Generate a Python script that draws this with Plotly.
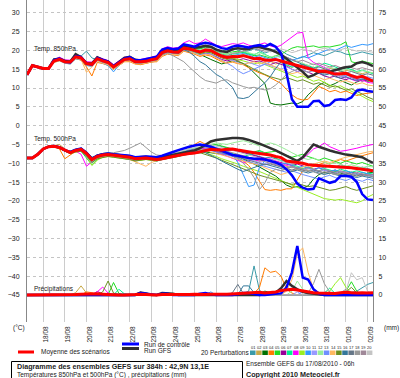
import plotly.graph_objects as go
import pandas as pd

# ---------------- data ----------------
TIMES = pd.date_range("2010-08-17 06:00", "2010-09-02 06:00", freq="6h")
DATE_LABELS = ["18/08", "19/08", "20/08", "21/08", "22/08", "23/08", "24/08", "25/08",
               "26/08", "27/08", "28/08", "29/08", "30/08", "31/08", "01/09", "02/09"]
TICK_DATES = ["2010-08-18", "2010-08-19", "2010-08-20", "2010-08-21", "2010-08-22", "2010-08-23",
              "2010-08-24", "2010-08-25", "2010-08-26", "2010-08-27", "2010-08-28", "2010-08-29",
              "2010-08-30", "2010-08-31", "2010-09-01", "2010-09-02"]
LEFT_TICKS = [-45, -40, -35, -30, -25, -20, -15, -10, -5, 0, 5, 10, 15, 20, 25, 30]
RIGHT_TICKS = [0, 5, 10, 15, 20, 25, 30, 35, 40, 45, 50, 55, 60, 65, 70, 75]

# Temperature 850 hPa (C)
MEAN_850 = [13.5,16.0,15.6,15.2,15.2, 17.2,17.6,17.0,16.9,18.3, 18.0,16.5,16.3,17.8,17.2, 16.8,15.6,16.6,17.6,17.8, 17.0,17.0,17.1,17.5,17.8, 19.4,19.9,19.6,19.5,20.6, 20.4,20.0,19.6,20.1,20.0, 19.2,18.5,18.1,18.4,18.3, 18.6,18.2,17.8,17.9,17.4, 17.4,17.6,17.2,16.8,16.4, 15.8,15.6,15.0,14.8,14.4, 14.5,14.0,13.7,13.8,13.9, 13.3,12.8,13.1,12.5,11.8]
CTRL_850 = [13.5,16.0,15.6,15.2,15.2, 17.4,17.8,17.0,16.8,18.5, 18.2,16.6,16.2,18.0,17.5, 17.0,15.8,16.8,17.8,18.2, 17.4,17.4,17.6,18.0,18.3, 20.2,20.6,20.3,20.5,21.6, 21.3,21.0,21.7,22.0,21.8, 21.2,20.6,20.4,21.0,21.3, 21.0,20.8,21.2,21.4,21.0, 21.7,21.0,19.2,14.0,7.0, 5.0,5.1,5.0,6.5,6.6, 5.2,5.5,6.8,7.0,6.8, 7.5,9.3,9.6,9.2,9.0]
GFS_850 = [13.5,16.0,15.6,15.2,15.2, 17.6,17.8,17.2,17.0,19.0, 18.2,16.5,16.5,18.2,17.5, 17.0,15.8,16.9,18.0,18.3, 17.5,17.3,17.4,17.9,18.2, 20.0,20.4,20.1,20.2,21.2, 21.0,20.7,20.9,21.2,21.0, 20.2,19.8,19.6,20.3,20.6, 20.4,20.4,20.9,20.9,20.5, 20.2,19.6,18.9,17.8,16.7, 15.6,14.3,12.9,13.4,14.3, 14.4,14.3,14.8,15.2,15.5, 15.7,16.6,16.9,16.5,15.8]
P850_01 = [13.5,16.0,15.6,15.2,15.3, 17.0,17.5,17.2,17.3,18.6, 18.5,19.8,18.0,17.6,17.0, 16.5,15.5,16.4,17.3,17.5, 16.8,16.5,16.8,17.3,17.6, 19.0,19.5,19.3,19.0,20.2, 20.0,19.8,20.5,21.0,20.6, 20.0,19.8,20.2,20.6,20.1, 19.6,19.9,20.4,20.0,19.3, 19.8,20.3,20.0,19.0,18.4, 17.8,18.2,18.8,19.4,19.0, 18.6,19.2,19.8,19.6,19.0, 18.8,19.3,19.6,19.2,18.9]
P850_02 = [13.5,16.0,15.6,15.2,15.2, 16.8,17.2,16.6,16.4,17.8, 17.5,16.0,15.8,17.4,16.8, 16.2,14.9,16.0,17.0,17.2, 16.5,16.3,16.6,17.0,17.2, 18.8,19.4,19.1,19.2,20.3, 20.1,19.6,19.0,19.5,19.8, 19.3,18.7,18.2,18.6,18.5, 18.9,18.4,17.9,17.5,17.9, 17.2,16.4,16.8,16.0,15.5, 16.2,15.8,15.2,15.6,14.8, 14.5,15.2,15.0,14.3,14.6, 14.9,14.2,13.8,14.2,14.0]
P850_03 = [13.5,16.0,15.6,15.2,15.2, 17.3,17.8,17.1,17.0,18.4, 18.1,16.7,16.4,17.9,17.3, 17.0,15.7,16.8,17.8,18.0, 17.2,17.1,17.3,17.6,18.0, 19.6,20.0,19.7,19.8,20.8, 20.3,19.6,18.8,18.2,17.6, 17.0,16.4,16.8,17.2,17.0, 16.5,15.5,14.0,12.5,11.2, 6.0,5.6,5.5,5.8,6.0, 5.8,6.4,8.2,9.5,10.8, 11.5,10.6,11.2,12.0,11.4, 10.8,11.6,12.2,11.8,12.0]
P850_04 = [13.5,16.0,15.6,15.2,15.1, 17.0,17.4,16.8,16.6,17.8, 17.4,15.6,13.2,16.8,16.5, 16.0,15.0,16.0,17.0,17.0, 16.4,16.2,16.6,16.9,17.0, 18.4,19.0,18.8,18.6,19.8, 19.5,19.0,18.4,18.8,18.5, 17.8,17.0,16.6,16.9,16.5, 16.2,15.4,14.6,14.0,13.5, 12.8,12.0,11.2,9.6,8.2, 7.2,6.8,7.0,8.6,10.4, 9.8,9.0,9.4,8.8,9.2, 8.5,8.0,8.4,8.6,8.8]
P850_05 = [13.5,16.0,15.6,15.2,15.3, 17.5,18.0,17.4,17.2,18.7, 18.4,16.9,16.6,18.2,17.6, 17.2,16.0,17.0,18.0,18.3, 17.5,17.4,17.6,18.0,18.3, 20.0,20.6,20.2,20.0,21.2, 21.0,20.6,20.4,20.8,20.6, 19.8,19.2,19.0,19.6,19.8, 19.4,19.0,18.6,18.8,18.4, 18.0,18.6,19.0,19.8,20.6, 21.0,20.8,21.0,21.2,20.8, 21.0,20.9,21.2,21.5,22.3, 17.0,16.6,17.2,16.8,16.5]
P850_06 = [13.5,16.0,15.6,15.2,15.2, 17.2,17.5,16.9,16.8,18.2, 17.9,16.4,16.2,17.6,17.0, 16.6,15.4,16.4,17.4,17.6, 16.9,16.8,17.0,17.4,17.6, 19.2,19.6,19.4,19.2,20.4, 20.1,19.6,19.0,19.2,19.0, 18.2,17.6,17.2,17.6,17.4, 17.8,17.4,17.0,17.2,16.6, 16.2,16.8,16.4,15.8,15.0, 14.4,14.8,14.2,13.6,13.9, 13.2,12.8,13.2,12.6,12.2, 12.8,12.4,11.8,12.2,11.6]
P850_07 = [13.5,16.0,15.6,15.2,15.2, 17.4,17.9,17.2,17.1,18.6, 18.2,16.8,16.6,18.0,17.4, 17.0,15.9,16.9,17.9,18.1, 17.3,17.2,17.4,17.8,18.1, 19.8,20.3,20.0,19.8,21.0, 20.7,20.3,20.0,20.4,20.2, 19.6,19.0,18.6,19.0,19.2, 19.6,19.2,18.8,19.6,19.0, 18.4,17.6,17.0,16.2,15.6, 15.8,16.4,16.0,15.4,15.8, 16.6,16.2,15.6,15.0,15.4, 14.8,14.4,14.8,14.2,13.8]
P850_08 = [13.5,16.0,15.6,15.2,15.4, 17.6,18.2,17.5,17.4,18.9, 18.5,17.0,16.9,18.3,17.8, 17.3,16.2,17.2,18.2,18.4, 17.6,17.6,17.8,18.2,18.6, 20.4,21.0,20.6,20.8,22.0, 22.6,21.8,22.0,23.0,22.2, 21.4,21.0,21.4,21.8,21.6, 22.0,21.4,21.0,21.6,22.0, 21.2,20.8,21.4,22.4,23.6, 24.6,24.8,18.0,16.8,16.2, 15.4,14.8,14.0,13.2,12.8, 12.2,11.8,12.2,11.5,11.3]
P850_09 = [13.5,16.0,15.6,15.2,15.2, 17.1,17.4,16.8,16.7,18.1, 17.8,16.2,16.0,17.5,16.9, 16.4,15.3,16.3,17.3,17.5, 16.7,16.6,16.9,17.2,17.5, 19.0,19.5,19.3,19.0,20.2, 20.0,19.4,19.0,19.6,19.4, 18.8,18.2,17.8,18.0,17.6, 17.2,16.8,16.4,16.8,16.2, 15.6,15.0,14.6,14.0,13.4, 12.8,13.2,12.4,11.8,12.2, 11.4,10.8,10.2,10.6,9.8, 9.2,8.6,7.8,7.0,6.4]
P850_10 = [13.5,16.0,15.6,15.2,15.2, 17.0,17.3,16.6,16.4,17.8, 17.5,16.0,15.8,17.2,16.6, 16.0,14.3,16.0,17.2,17.5, 16.7,16.6,16.9,17.2,17.5, 19.2,19.8,19.5,19.4,20.5, 20.3,19.8,19.4,19.8,19.9, 19.2,18.6,18.2,18.6,18.9, 19.2,18.8,18.2,18.6,18.0, 17.6,18.2,18.6,18.0,17.4, 17.8,18.4,18.0,18.6,19.2, 19.8,20.4,20.0,20.6,21.3, 20.8,21.2,21.6,21.4,21.8]
P850_11 = [13.5,16.0,15.6,15.2,15.2, 17.3,17.7,17.1,17.0,18.4, 18.1,16.6,16.4,17.9,17.3, 16.9,15.7,16.7,17.7,17.9, 17.1,17.1,17.2,17.6,17.9, 19.5,20.0,19.7,19.6,20.7, 20.5,20.1,19.8,20.2,20.0, 19.2,18.6,18.0,17.4,16.6, 16.2,16.8,16.2,15.8,16.4, 16.0,15.4,15.0,15.6,15.0, 14.4,14.8,14.2,14.6,14.0, 13.6,14.0,13.4,13.0,13.4, 12.8,12.4,12.8,12.2,12.0]
P850_12 = [13.5,16.0,15.6,15.2,15.2, 17.4,17.8,17.2,17.0,18.5, 18.2,16.7,16.5,18.0,17.4, 17.0,15.8,16.8,17.8,18.0, 17.2,17.2,17.4,17.8,18.1, 19.8,20.3,20.0,20.0,21.0, 20.8,20.4,20.0,20.6,20.4, 19.6,19.2,19.0,19.4,19.4, 19.8,19.4,19.0,19.4,18.8, 18.2,18.6,18.0,17.4,16.8, 17.2,16.6,16.0,16.4,15.8, 15.2,15.6,15.0,14.6,15.0, 14.6,14.2,14.6,14.4,14.0]
P850_13 = [13.5,16.0,15.6,15.2,15.2, 17.0,17.4,16.8,16.6,18.0, 17.7,16.2,16.0,17.4,16.8, 16.4,15.2,16.2,17.2,17.4, 16.6,16.6,16.8,17.2,17.4, 18.9,19.4,19.1,19.0,20.0, 19.8,19.3,18.8,19.2,19.0, 18.2,17.4,16.8,15.8,14.6, 13.8,14.4,15.0,15.8,16.4, 17.0,17.6,17.2,16.6,16.0, 15.4,15.8,15.2,14.6,15.0, 14.4,13.8,14.2,13.6,13.2, 13.6,13.0,12.6,13.0,12.6]
P850_14 = [13.5,16.0,15.6,15.2,15.2, 16.9,17.3,16.7,16.5,17.9, 17.6,14.2,15.6,17.2,16.6, 16.2,15.0,16.0,17.0,17.2, 16.4,16.4,16.6,17.0,17.2, 18.6,19.2,18.9,18.8,19.9, 19.7,19.2,18.6,19.0,18.8, 18.0,17.2,16.6,17.0,16.6, 16.2,16.6,17.0,16.4,16.8, 16.2,15.6,15.0,14.4,13.8, 14.2,13.6,13.0,13.4,12.8, 12.2,12.6,12.0,11.6,12.0, 11.4,11.0,11.4,10.8,10.6]
P850_15 = [13.5,16.0,15.6,15.2,15.2, 17.2,17.6,17.0,16.8,18.3, 18.0,16.5,16.2,17.7,17.1, 16.7,15.5,16.5,17.5,17.7, 16.9,16.9,17.1,17.5,17.7, 19.3,19.8,19.5,19.4,20.5, 20.2,19.8,19.2,19.6,19.4, 18.6,18.0,17.6,17.8,17.2, 16.6,15.8,15.0,14.2,13.6, 13.0,12.6,12.2,12.8,12.4, 11.8,12.2,11.6,11.0,11.4, 10.8,10.2,10.6,10.0,9.4, 9.8,9.2,8.4,7.6,7.0]
P850_16 = [13.5,16.0,15.6,15.2,15.2, 17.1,17.5,16.9,16.8,18.2, 17.9,16.4,16.2,17.6,17.0, 16.6,15.4,16.4,17.4,17.6, 16.8,16.8,17.0,17.4,17.6, 19.2,19.6,19.3,19.2,20.2, 19.6,18.4,17.0,16.2,15.0, 13.6,12.8,11.6,10.2,7.4, 7.2,7.6,9.0,10.2,11.4, 13.0,15.2,17.0,18.2,17.6, 17.0,16.4,15.6,14.8,14.0, 13.4,13.8,13.0,12.6,13.0, 12.4,12.0,12.4,12.0,11.8]
P850_17 = [13.5,16.0,15.6,15.2,15.2, 17.2,17.6,17.0,16.9,18.3, 18.0,16.5,16.3,17.8,17.2, 16.8,15.6,16.6,17.6,17.8, 17.0,17.0,17.1,17.5,17.8, 19.4,19.9,19.6,19.5,20.6, 20.4,20.0,19.6,20.0,19.8, 19.0,18.4,18.0,18.4,18.2, 18.6,18.2,17.8,18.0,17.6, 17.2,17.6,17.0,16.6,16.2, 15.8,16.2,15.6,15.2,15.6, 15.0,14.6,15.0,14.4,14.0, 14.4,13.8,13.4,13.8,13.4]
P850_18 = [13.5,16.0,15.6,15.2,15.2, 17.0,17.5,16.8,16.6,18.1, 17.8,16.2,16.0,17.5,16.9, 16.4,15.3,16.3,17.3,17.5, 16.7,16.6,16.8,17.2,17.4, 18.8,19.2,18.6,17.8,17.0, 15.6,14.2,13.0,12.0,11.6, 11.3,12.0,12.2,11.4,10.8, 10.4,10.0,10.2,9.8,9.5, 9.8,10.8,12.2,13.6,14.4, 15.0,14.6,14.2,14.8,14.4, 13.8,14.2,13.6,13.2,13.6, 13.0,12.6,13.0,12.4,12.2]
P850_19 = [13.5,16.0,15.6,15.2,15.2, 17.3,17.7,17.1,17.0,18.4, 18.1,16.6,16.4,17.9,17.3, 16.9,15.7,16.7,17.7,17.9, 17.1,17.1,17.2,17.6,17.9, 19.5,20.0,19.7,19.6,20.7, 20.5,20.1,19.8,20.4,20.2, 19.4,18.8,18.6,19.2,19.4, 19.8,20.2,20.6,20.2,19.8, 20.0,19.4,18.8,18.2,17.6, 17.0,17.4,16.8,16.2,16.6, 16.0,15.6,16.0,15.4,15.8, 15.4,15.0,15.4,15.0,14.6]
P850_20 = [13.5,16.0,15.6,15.2,15.2, 17.2,17.6,17.0,16.9,18.3, 18.0,16.5,16.3,17.8,17.2, 16.8,15.6,16.6,17.6,17.8, 17.0,17.0,17.1,17.5,17.8, 19.4,19.9,19.6,19.5,20.6, 20.4,20.0,19.8,20.4,20.6, 20.0,19.6,19.8,20.4,20.8, 21.2,20.8,20.4,20.8,20.2, 19.6,20.0,20.4,20.0,19.4, 19.8,20.4,20.0,19.6,20.2, 20.6,20.2,19.8,20.2,20.6, 20.2,19.8,20.0,19.8,19.5]

# Temperature 500 hPa (C)
MEAN_500 = [-8.6,-8.6,-7.6,-6.2,-5.6, -5.5,-5.8,-6.6,-7.2,-6.6, -6.3,-7.4,-9.0,-8.2,-7.8, -7.7,-7.9,-8.0,-8.2,-8.4, -8.8,-8.7,-8.6,-8.8,-9.0, -8.8,-8.6,-8.2,-7.9,-7.6, -7.4,-7.3,-7.0,-6.5,-6.3, -6.4,-6.5,-6.3,-6.2,-6.5, -6.8,-7.1,-7.2,-7.4,-7.6, -7.8,-8.2,-8.5,-9.4,-9.7, -9.8,-10.0,-10.4,-10.5,-10.6, -10.7,-10.8,-10.8,-11.0,-11.1, -11.2,-11.4,-11.6,-11.8,-12.0]
CTRL_500 = [-8.6,-8.6,-7.6,-6.2,-5.6, -5.4,-5.7,-6.5,-7.0,-6.4, -6.1,-7.2,-8.8,-8.0,-7.6, -7.4,-7.6,-7.7,-7.9,-8.0, -8.4,-8.3,-8.2,-8.3,-8.4, -8.0,-7.6,-7.0,-6.5,-6.0, -5.6,-5.3,-5.0,-5.3,-5.6, -6.2,-6.7,-7.3,-7.8,-8.0, -8.4,-8.6,-8.8,-8.8,-9.0, -9.3,-9.8,-10.4,-11.6,-13.2, -15.4,-16.5,-17.0,-16.8,-14.0, -14.6,-15.2,-14.8,-13.4,-13.4, -13.6,-15.0,-18.2,-19.6,-19.8]
GFS_500 = [-8.6,-8.6,-7.6,-6.2,-5.6, -5.5,-5.8,-6.6,-7.1,-6.5, -6.2,-7.3,-8.8,-8.0,-7.6, -7.5,-7.7,-7.8,-8.0,-8.1, -8.5,-8.4,-8.3,-8.5,-8.6, -8.3,-8.0,-7.6,-7.3,-7.0, -6.8,-6.6,-6.0,-5.0,-4.2, -3.8,-3.6,-3.4,-3.3,-3.3, -3.4,-3.8,-4.2,-4.8,-5.4, -5.9,-6.6,-7.3,-8.0,-8.8, -9.4,-8.4,-6.8,-5.0,-5.6, -6.2,-6.6,-7.0,-7.4,-7.7, -7.9,-8.1,-8.4,-9.2,-9.9]
P500_01 = [-8.6,-8.6,-7.6,-6.2,-5.6, -5.4,-5.6,-6.4,-7.0,-6.4, -6.2,-7.6,-9.4,-8.4,-7.6, -7.4,-7.8,-7.8,-8.0,-8.2, -8.6,-8.4,-8.2,-8.4,-8.8, -8.4,-8.0,-7.6,-7.4,-7.0, -6.6,-6.4,-6.0,-5.4,-5.0, -5.2,-5.6,-6.0,-6.4,-6.8, -7.0,-7.4,-7.8,-8.2,-8.6, -8.4,-8.8,-9.2,-9.6,-9.2, -9.8,-10.2,-10.6,-10.2,-10.8, -11.2,-10.6,-11.0,-10.4,-10.8, -11.2,-11.6,-11.0,-11.4,-11.8]
P500_02 = [-8.6,-8.6,-7.6,-6.2,-5.6, -5.2,-5.0,-6.2,-7.6,-7.0, -6.6,-8.0,-9.8,-8.6,-8.0, -7.8,-8.0,-8.2,-8.4,-8.6, -9.0,-9.2,-8.8,-9.0,-9.2, -8.8,-8.6,-8.2,-8.0,-7.6, -7.4,-7.2,-7.0,-6.6,-6.2, -6.6,-7.0,-7.2,-7.6,-8.0, -8.4,-8.8,-9.0,-9.4,-9.2, -9.6,-10.0,-10.4,-10.8,-11.2, -11.0,-11.6,-12.0,-11.6,-12.2, -12.6,-12.2,-12.8,-13.0,-12.6, -13.0,-13.4,-12.8,-13.2,-13.0]
P500_03 = [-8.6,-8.6,-7.6,-6.2,-5.6, -5.6,-6.0,-6.8,-7.4,-6.8, -6.4,-7.8,-9.2,-8.4,-8.0, -7.8,-8.0,-8.2,-8.4,-8.6, -8.8,-8.6,-8.8,-9.0,-9.2, -9.0,-8.8,-8.4,-8.2,-7.8, -7.6,-7.4,-7.2,-7.0,-7.2, -7.4,-7.6,-7.6,-7.8,-8.2, -8.8,-9.4,-10.2,-11.0,-11.8, -12.6,-13.4,-14.6,-15.8,-16.4, -16.2,-16.6,-16.0,-14.2,-13.0, -12.4,-12.8,-12.2,-12.6,-13.0, -12.4,-12.8,-13.2,-12.6,-12.4]
P500_04 = [-8.6,-8.6,-7.6,-6.2,-5.6, -5.6,-6.2,-8.8,-7.8,-6.8, -6.6,-7.6,-9.0,-8.2,-7.8, -7.6,-7.8,-8.0,-8.2,-8.4, -8.8,-8.8,-8.6,-8.8,-9.0, -8.6,-8.2,-7.8,-7.6,-7.0, -6.2,-5.0,-4.2,-5.0,-5.8, -6.4,-7.0,-7.4,-8.0,-8.6, -9.4,-10.6,-12.4,-14.8,-17.0, -17.2,-17.0,-17.2,-16.8,-16.8, -14.2,-12.0,-11.4,-10.8,-10.4, -9.8,-10.2,-9.6,-9.0,-9.4, -8.8,-8.4,-8.0,-7.6,-7.2]
P500_05 = [-8.6,-8.6,-7.6,-6.2,-5.6, -5.6,-5.8,-6.4,-7.0,-6.6, -6.8,-8.6,-10.4,-9.0,-8.2, -8.0,-8.2,-8.4,-8.6,-8.8, -9.2,-8.8,-8.6,-8.8,-9.0, -8.6,-8.2,-7.6,-7.2,-6.8, -6.4,-6.2,-5.8,-5.4,-5.2, -5.0,-5.4,-5.8,-6.2,-6.6, -7.0,-7.4,-7.0,-6.6,-7.2, -7.0,-6.8,-7.4,-8.0,-8.4, -8.0,-7.6,-8.2,-8.8,-9.2, -8.6,-9.0,-9.6,-10.0,-9.4, -9.8,-10.2,-9.8,-10.4,-10.8]
P500_06 = [-8.6,-8.6,-7.6,-6.2,-5.6, -5.6,-5.8,-6.6,-7.2,-6.6, -6.4,-7.6,-9.2,-8.4,-8.0, -7.8,-7.8,-8.0,-8.2,-8.4, -8.8,-8.6,-8.6,-8.8,-9.0, -8.8,-8.6,-8.2,-7.8,-7.6, -7.4,-7.2,-7.0,-6.6,-6.4, -6.6,-6.8,-6.6,-6.4,-6.8, -7.2,-7.6,-8.0,-8.2,-8.6, -9.0,-9.4,-9.8,-10.2,-10.6, -10.2,-10.8,-11.2,-11.6,-11.2, -11.8,-12.2,-11.8,-12.4,-12.8, -12.4,-12.8,-13.2,-12.8,-13.2]
P500_07 = [-8.6,-8.6,-7.6,-6.2,-5.6, -5.6,-6.0,-6.8,-7.2,-6.6, -6.2,-7.0,-8.4,-8.0,-7.6, -7.4,-7.6,-7.8,-8.2,-8.6, -9.2,-9.0,-8.8,-9.0,-9.2, -8.8,-8.4,-8.0,-7.6,-7.2, -6.8,-6.6,-6.4,-6.0,-5.8, -6.2,-6.6,-7.0,-7.4,-7.8, -8.2,-7.8,-7.2,-6.8,-7.4, -7.8,-8.6,-9.4,-9.8,-10.2, -10.8,-11.4,-11.0,-11.6,-12.0, -11.4,-11.8,-12.2,-11.6,-12.0, -12.4,-12.0,-12.4,-12.8,-12.6]
P500_08 = [-8.6,-8.6,-7.6,-6.2,-5.6, -5.6,-5.8,-6.6,-7.0,-6.8, -7.6,-10.8,-9.6,-8.4,-7.8, -7.6,-7.8,-8.0,-8.2,-8.4, -8.6,-8.4,-8.4,-8.6,-8.8, -8.4,-8.2,-7.8,-7.4,-7.0, -6.6,-6.4,-6.2,-6.0,-6.4, -7.0,-7.6,-8.2,-8.6,-9.2, -9.8,-9.4,-9.0,-9.4,-9.0, -8.8,-9.4,-10.0,-10.6,-10.2, -9.6,-8.8,-7.6,-6.2,-5.6, -4.6,-5.6,-6.2,-6.8,-6.6, -6.4,-6.0,-5.6,-5.4,-5.0]
P500_09 = [-8.6,-8.6,-7.6,-6.2,-5.6, -5.6,-6.0,-6.8,-7.4,-7.0, -6.8,-8.2,-10.6,-9.2,-8.4, -8.2,-8.4,-8.6,-8.8,-9.0, -9.4,-9.2,-9.0,-9.2,-9.4, -9.0,-8.8,-8.4,-8.0,-7.6, -7.4,-7.2,-7.0,-7.2,-7.6, -8.2,-8.8,-9.2,-9.8,-10.2, -10.8,-11.2,-11.6,-12.2,-12.8, -13.4,-14.0,-14.4,-15.0,-15.6, -16.2,-16.8,-17.4,-18.2,-18.8, -19.4,-19.6,-19.8,-19.6,-20.0, -20.2,-20.5,-20.0,-19.0,-18.3]
P500_10 = [-8.6,-8.6,-7.6,-6.2,-5.6, -5.4,-5.6,-6.4,-6.8,-6.4, -6.2,-7.4,-9.0,-8.2,-7.8, -7.6,-7.8,-8.0,-8.0,-8.2, -8.6,-8.4,-8.4,-8.6,-8.8, -8.4,-8.0,-7.6,-7.2,-6.8, -6.4,-6.0,-5.8,-5.6,-5.4, -5.8,-6.2,-6.8,-7.6,-9.8, -13.0,-16.2,-15.8,-11.0,-9.4, -9.0,-9.6,-10.2,-10.0,-10.6, -11.2,-10.8,-11.4,-11.8,-11.2, -11.6,-12.2,-11.8,-12.4,-12.0, -12.6,-13.0,-12.4,-12.8,-13.2]
P500_11 = [-8.6,-8.6,-7.6,-6.2,-5.6, -5.6,-6.0,-6.8,-7.2,-6.8, -6.6,-7.8,-9.6,-8.6,-8.0, -7.8,-8.0,-8.2,-8.4,-8.6, -9.0,-8.8,-8.6,-8.8,-9.2, -8.8,-8.4,-8.0,-7.8,-7.4, -7.0,-6.8,-6.6,-6.2,-6.0, -6.4,-6.8,-7.2,-7.6,-8.0, -8.6,-9.0,-9.4,-9.8,-10.2, -10.0,-10.4,-10.8,-11.2,-11.0, -11.4,-11.8,-11.4,-11.8,-12.2, -11.8,-12.2,-12.6,-12.2,-12.6, -13.0,-12.6,-13.0,-13.4,-13.2]
P500_12 = [-8.6,-8.6,-7.6,-6.2,-5.6, -5.4,-5.6,-6.4,-6.8,-6.2, -6.0,-7.0,-8.6,-7.8,-7.4, -7.2,-7.4,-7.6,-7.8,-8.0, -8.4,-8.2,-8.2,-8.4,-8.6, -8.2,-7.8,-7.4,-7.0,-6.6, -6.2,-6.0,-5.6,-5.2,-4.8, -4.6,-4.8,-5.0,-4.6,-4.2, -4.0,-4.4,-4.8,-5.4,-5.0, -4.6,-5.0,-5.6,-6.4,-7.2, -8.0,-8.6,-9.0,-8.6,-9.2, -9.8,-10.2,-9.8,-10.4,-10.8, -10.4,-10.8,-11.2,-10.8,-11.0]
P500_13 = [-8.6,-8.6,-7.6,-6.2,-5.6, -5.6,-5.8,-6.6,-7.2,-6.8, -6.8,-8.2,-9.8,-8.8,-8.2, -8.0,-8.2,-8.4,-8.6,-8.8, -9.2,-9.0,-8.8,-9.0,-9.4, -9.0,-8.6,-8.2,-7.8,-7.4, -7.0,-6.8,-6.6,-6.4,-6.6, -7.0,-7.4,-7.8,-8.2,-8.6, -9.2,-9.6,-10.0,-10.4,-10.8, -11.2,-11.6,-12.0,-12.4,-12.0, -12.6,-13.0,-13.4,-13.8,-14.2, -13.6,-13.2,-13.8,-14.2,-14.6, -14.0,-14.4,-14.8,-14.2,-14.6]
P500_14 = [-8.6,-8.6,-7.6,-6.2,-5.6, -5.6,-6.0,-6.8,-7.4,-6.8, -6.6,-7.8,-9.4,-8.6,-8.2, -8.0,-8.2,-8.4,-8.6,-9.0, -9.6,-10.4,-10.8,-9.8,-9.2, -8.8,-8.4,-8.0,-7.6,-7.2, -6.8,-6.6,-6.4,-6.6,-7.0, -7.4,-7.8,-8.2,-8.6,-9.0, -9.4,-9.8,-10.2,-10.6,-11.2, -11.8,-12.4,-13.0,-12.6,-12.2, -11.6,-11.0,-10.6,-10.2,-9.8, -9.4,-9.8,-9.2,-8.8,-8.4, -8.0,-7.6,-7.2,-7.0,-6.8]
P500_15 = [-8.6,-8.6,-7.6,-6.2,-5.6, -5.6,-6.0,-6.8,-7.4,-7.0, -6.8,-8.0,-9.8,-8.8,-8.4, -8.2,-8.4,-8.6,-8.8,-9.0, -9.4,-9.2,-9.0,-9.2,-9.4, -9.0,-8.6,-8.2,-7.8,-7.6, -7.4,-7.2,-7.2,-7.6,-8.0, -8.6,-9.2,-9.8,-10.4,-11.0, -11.6,-12.2,-12.8,-13.2,-13.6, -14.0,-14.4,-14.8,-15.2,-15.6, -15.4,-15.8,-16.2,-16.0,-16.4, -16.8,-17.2,-17.0,-16.6,-16.2, -16.8,-17.2,-16.8,-16.4,-16.0]
P500_16 = [-8.6,-8.6,-7.6,-6.2,-5.6, -5.6,-5.8,-6.6,-7.0,-6.6, -6.4,-7.6,-9.2,-8.4,-8.0, -7.8,-8.0,-8.2,-8.4,-8.6, -8.8,-8.6,-8.6,-8.8,-9.0, -8.8,-8.4,-8.0,-7.6,-7.4, -7.2,-7.0,-6.8,-7.2,-7.8, -8.6,-9.4,-10.2,-11.0,-11.6, -12.2,-11.6,-11.0,-10.6,-10.2, -10.6,-11.0,-11.4,-11.8,-12.2, -11.8,-12.2,-12.6,-12.2,-12.6, -13.0,-12.6,-13.0,-13.4,-13.0, -13.4,-13.8,-13.4,-13.8,-14.0]
P500_17 = [-8.6,-8.6,-7.6,-6.2,-5.6, -5.6,-5.8,-6.6,-7.2,-6.6, -6.4,-7.6,-9.2,-8.4,-8.0, -7.8,-7.8,-8.0,-8.2,-8.4, -8.8,-8.6,-8.6,-8.8,-9.0, -8.8,-8.4,-8.0,-7.8,-7.6, -7.4,-7.2,-7.0,-6.8,-6.6, -6.8,-7.2,-7.6,-8.0,-8.4, -8.8,-9.2,-9.6,-10.0,-10.4, -10.2,-10.6,-11.0,-11.4,-11.8, -11.4,-11.8,-12.2,-11.8,-12.2, -12.6,-12.2,-12.6,-13.0,-12.6, -13.0,-13.4,-13.0,-13.4,-13.6]
P500_18 = [-8.6,-8.6,-7.6,-6.2,-5.6, -5.6,-5.8,-6.6,-7.2,-6.6, -6.4,-7.6,-9.4,-8.4,-7.8, -7.4,-7.2,-7.0,-6.6,-6.0, -5.2,-4.6,-5.8,-7.0,-7.8, -8.0,-7.8,-7.6,-7.4,-7.2, -7.0,-6.8,-6.6,-6.4,-6.2, -6.6,-7.0,-7.4,-8.0,-8.8, -10.0,-11.6,-13.8,-17.0,-15.2, -12.4,-11.6,-12.0,-11.4,-11.0, -11.6,-12.2,-11.8,-12.4,-12.8, -12.2,-12.6,-13.0,-12.4,-12.8, -13.2,-12.8,-13.4,-13.0,-13.6]
P500_19 = [-8.6,-8.6,-7.6,-6.2,-5.6, -5.6,-5.8,-6.6,-7.2,-6.6, -6.4,-7.4,-9.0,-8.2,-7.8, -7.6,-7.8,-8.0,-8.2,-8.4, -8.8,-8.6,-8.4,-8.6,-8.8, -8.6,-8.2,-7.8,-7.4,-7.0, -6.6,-6.2,-6.0,-5.8,-5.6, -6.0,-6.4,-6.8,-7.2,-7.6, -8.0,-8.4,-8.8,-9.2,-9.6, -10.0,-10.4,-10.8,-11.2,-10.8, -11.2,-11.6,-11.2,-11.6,-12.0, -11.6,-12.0,-12.4,-12.0,-12.4, -12.8,-12.4,-12.8,-13.2,-13.0]
P500_20 = [-8.6,-8.6,-7.6,-6.2,-5.6, -5.4,-5.6,-6.4,-6.8,-6.4, -6.2,-7.2,-8.8,-8.0,-7.6, -7.4,-7.6,-7.8,-8.0,-8.2, -8.6,-8.4,-8.2,-8.4,-8.6, -8.2,-7.8,-7.4,-7.0,-6.6, -6.2,-5.8,-5.6,-5.2,-5.0, -5.4,-5.8,-6.2,-6.6,-7.0, -7.4,-7.8,-8.2,-8.6,-9.0, -9.4,-9.0,-9.4,-9.8,-10.2, -9.8,-10.2,-10.6,-10.2,-10.6, -11.0,-10.6,-11.0,-11.4,-11.0, -11.4,-11.8,-11.4,-11.8,-12.0]

# Precipitation (mm per 6h)
MEAN_PR = [0,0,0,0,0, 0,0,0,0,0.1, 0.2,0.3,0.4,0.3,0.2, 0.1,0.1,0,0,0, 0.1,0.2,0.1,0,0, 0.1,0.1,0,0,0.1, 0.1,0.2,0.1,0.1,0.2, 0.3,0.2,0.2,0.3,0.4, 0.6,0.5,0.6,0.7,0.5, 0.6,0.8,1.2,1.4,1.5, 1.3,1.0,0.8,0.6,0.5, 0.4,0.3,0.4,0.6,0.7, 0.6,0.5,0.6,0.5,0.6]
CTRL_PR = [0,0,0,0,0, 0,0,0,0,0, 0,0,0,0,0, 0,0,0,0,0, 0,0.5,0.3,0,0, 0.3,0.3,0,0,0, 0,0,0.3,0.5,0.2, 0,0,0,0,0.2, 0.5,0.5,0.2,0,0, 0.2,0.3,0.4,2.0,6.0, 13.0,4.6,4.1,1.5,0.3, 0,0,0,0,0, 0,0,0,0,0]
GFS_PR = [0,0,0,0,0, 0,0,0,0,0, 0,0,0,0,0, 0,0,0,0,0, 0,0.6,0.4,0,0, 0.5,0.5,0.3,0,0, 0,0,0,0,0, 0,0,0,0,0, 0,0,0,0,0.2, 0.3,0.6,1.8,3.7,2.4, 1.5,0.8,0.5,0.3,0.2, 0,0,0,0,0, 0,0,0,0,0]
PR_01 = [0,0,0,0,0, 0,0,0,0,0, 0,0,0,0,0, 0,0,0,0,0, 0,0,0,0,0, 0,0,0,0,0, 0,0,0,0,0, 0,0,0,0,0.3, 0.3,1.0,7.7,1.2,0.3, 0,0,0,0,0, 0,0,0,0,0, 0,0,0,0,0.4, 0.6,1.0,2.0,2.8,3.3]
PR_02 = [0,0,0,0,0, 0,0,0,0,0.6, 2.4,0.5,0,0,0, 0,0,0,0,0, 0,0,0,0,0, 0,0,0,0,0, 0,0,0,0,0, 0,0,0,0,0, 0,0,0,0,0, 0,0,0,0,0, 0,0,0,0,0, 0,0,0,0,0, 0,0,0,0,0]
PR_03 = [0,0,0,0,0, 0,0,0,0,0, 0,0,0,0,0, 0,0,0,0,0, 0,0,0,0,0, 0,0,0,0,0, 0,0,0,0,0, 0,0,0,0,0, 0,0,0,0.3,1.0, 0.6,0.2,0,0,0, 0,0,0,0,0, 0,0,0,0,0, 0,0,0,0,0]
PR_04 = [0,0,0,0,0, 0,0,0,0,0, 0,0.8,0.6,0,0, 0,0,0,0,0, 0,0,0,0,0, 0,0,0,0,0, 0,0,0,0,0, 0,0,0,0,0, 0,0,0.4,2.0,7.2, 6.0,6.3,5.0,1.5,0.5, 0,0,0,0,0, 0,0,0,0,0, 0,0,0,0,0]
PR_05 = [0,0,0,0,0, 0,0,0,0,0, 0,0,0,0,0, 0,3.3,0.4,0,0, 0,0,0,0,0, 0,0,0,0,0, 0,0,0,0,0, 0,0,0,0,0, 0,0,0,0,0, 0,0,0,0,0, 0,0,0,0,0, 0,0,0,0,1.0, 3.5,1.0,0,0,0]
PR_06 = [0,0,0,0,0, 0,0,0,0,0, 0,0,0,0.9,0.3, 0,0,0,0,0, 0,0,0,0,0, 0,0,0,0,0, 0,0,0,0,0, 0,0,0,0,0, 0,0,0,0,0, 0,0,0,0,0, 0,0,0,0,0, 0,0,0,0,0, 0,0,0,0,0]
PR_07 = [0,0,0,0,0, 0,0,0,0,0, 0,0,0,0,0, 0,0,1.5,0.3,0, 0,0,0,0,0, 0,0,0,0,0, 0,0,0,0,0, 0,0,0,0,0, 0,0,0,0,0, 0,0,0,0,0, 0,0,0,0,0, 0.5,1.8,0.4,0,0, 0,0,0,0,0]
PR_08 = [0,0,0,0,0, 0,0,0,0,0, 0,0,0,0.8,2.1, 0.5,0,0,0,0, 0,0,0,0,0, 0,0,0,0,0, 0,0,0,0,0, 0,0,0,0,0, 0,0,0,0,0, 0,0,0,0,0, 0,0,0,0,0, 0,0,0,0,0, 0,0,0,0,0]
PR_09 = [0,0,0,0,0, 0,0,0,0,0, 0,0,0,0,0, 0,0,0,0,0, 0,0,0,0,0, 0,0,0,0,0, 0,0,0,0,0, 0,0,0,0,0, 0,0,0,0,0, 0,0,0,0,0, 0,0,0,0,0, 0,1.0,3.0,4.6,2.0, 0.5,0,0,0,0]
PR_10 = [0,0,0,0,0, 0,0,0,0,0, 0,0,0,0,0, 0,0,0,0,0, 0,0,0,0,0, 0,0,0,0,0, 0,0,0,0,0.8, 0,0,0,0,0, 0,0,0,0,0, 0,0,0,0,0, 0,0,0,0,0, 0,0,0,0,0, 0,0,0.6,0,0]
PR_11 = [0,0,0,0,0, 0,0,0,0,0, 0,0,0,0,0, 0,0,0,0,0, 0,0,0,0,0, 0,0,0,0,0, 0,0,0,0,0, 0,0,0,0,0, 0,0,0,0,0, 0,0,0,0,0, 0.8,0,0,0,0, 0,0,0,0,0, 0,0,0,0,0]
PR_12 = [0,0,0,0,0, 0,0,0,0,0, 0,0,0,0,0, 0,0,0,0,0, 0,0,0,0,0, 0,0,0,0,0, 0,0,0,0,0, 0,0,0,0,0, 0,0,0,0,0, 0,0,0,0,1.0, 3.7,1.5,0.3,0,0, 0,0,0,0,0, 0,0,0,0,0]
PR_13 = [0,0,0,0,0, 0,0,0,0,0, 0,0,0,0,0, 0,0,0,0,0, 0,0,0,0,0, 0,0,0,0,0, 0,0,0,0,0, 0,0,0,0,0, 0,0,0,0,0, 0,0,0,0,0, 0,1.0,0,0,0, 0,0,0,0,0, 0,0,0,0,0]
PR_14 = [0,0,0,0,0, 0,0,0,0,0, 0,0,0,0,0, 0,0,0,0,0, 0,0,0,0,0, 0,0,0,0,0, 0,0,0,0,0, 0,0,0,0,0, 0,0,0,0,0, 0,0,0,1.0,4.0, 11.0,12.5,6.0,1.5,0.3, 0,0,0,0,0, 0,0,0,0,0]
PR_15 = [0,0,0,0,0, 0,0,0,0,0, 0,0,0,0,0.8, 3.7,0.5,0,0,0, 0,0,0,0,0, 0,0,0,0,0, 0,0,0,0,0, 0,0,0,0,0, 0,0,0,0,0, 0,0,0,0,0, 0,0,0,0,0, 0,0,0,0,0.8, 2.0,0.6,0,0,0]
PR_16 = [0,0,0,0,0, 0,0,0,0,0, 0,0,0,0,0, 0,0,0,0,0, 0,0,0,0,0, 0,0,0,0,0, 0,0,0,0,0, 0,0,0,0,0, 2.4,2.4,0.6,0,0, 0,0,0,0,0, 0,0,0,0,0, 0,0,0,0,0, 0,0,0,0,0]
PR_17 = [0,0,0,0,0, 0,0,0,0,0, 0,0,0,0,0, 0,0,0,0,0, 0,0,0,0,0, 0,0,0,0,0, 0,0,0,0,0, 0,0,0,0.6,2.8, 0.4,0,0,0,0, 0,0,0,0,0, 0,0,0,0,0, 0,0,0,0,0, 0,0,0,0,0]
PR_18 = [0,0,0,0,0, 0,0,0,0,0, 0,0,0,0,0, 0,0,0,0,0, 0,0,0,0,0, 0,0,0,0,0, 0,0,0,0,0, 0,0,0,0,0, 0,0,0,0,0, 0,0,0,0,0, 0,0,0.5,3.0,6.8, 3.0,0.8,0,0,0, 0,0,0,0,0]
PR_19 = [0,0,0,0,0, 0,0,0,0,0, 0,0,0,0,0, 0,0,0,0,0, 0,0,0,0,0, 0,0,0,0,0, 0,0,0,0,0, 0,0,0,0,0, 0,0,0,0,0, 0,0,0,0,0, 0,0,0,0,0, 0,0,0,0.6,1.5, 0.5,0,0,0,0]
PR_20 = [0,0,0,0,0, 0,0,0,0,0, 0,0,0,0,0, 0,0,0,0,0, 0,0,0,0,0, 0,0,0,0,0, 0,0,0,0,0, 0,0,0,0,0, 0,0,0,0,0, 0,0,0,0,0, 0,0,0,0,0, 0,0,0,0,1.0, 5.9,4.0,4.6,1.0,0.3]

PERT_NAMES = ["01", "02", "03", "04", "05", "06", "07", "08", "09", "10",
              "11", "12", "13", "14", "15", "16", "17", "18", "19", "20"]

# ---------------- styling ----------------
PERT_COLORS = ["#3a9aa8", "#c8aa48", "#007000", "#ff7a00", "#22dd22", "#990099", "#00f090",
               "#ff00ff", "#99ee22", "#3399ff", "#9999ff", "#99ee99", "#6f8fff", "#ffb860",
               "#6b9020", "#33779a", "#667788", "#999999", "#a08898", "#c4c4c4"]
C_MEAN, C_CTRL, C_GFS = "#ff0000", "#0000ff", "#303030"
FONT = "Liberation Sans"
TXT = "#222222"

P850 = [P850_01, P850_02, P850_03, P850_04, P850_05, P850_06, P850_07, P850_08, P850_09, P850_10,
        P850_11, P850_12, P850_13, P850_14, P850_15, P850_16, P850_17, P850_18, P850_19, P850_20]
P500 = [P500_01, P500_02, P500_03, P500_04, P500_05, P500_06, P500_07, P500_08, P500_09, P500_10,
        P500_11, P500_12, P500_13, P500_14, P500_15, P500_16, P500_17, P500_18, P500_19, P500_20]
PPR = [PR_01, PR_02, PR_03, PR_04, PR_05, PR_06, PR_07, PR_08, PR_09, PR_10,
       PR_11, PR_12, PR_13, PR_14, PR_15, PR_16, PR_17, PR_18, PR_19, PR_20]

for grp in (P850, P500, PPR, [MEAN_850, CTRL_850, GFS_850, MEAN_500, CTRL_500, GFS_500, MEAN_PR, CTRL_PR, GFS_PR]):
    for k, s in enumerate(grp):
        assert len(s) == len(TIMES), (k, len(s))

W, H = 400, 378
ML, MR, MT, MB = 27, 27, 0, 56
PW, PH = W - ML - MR, H - MT - MB


def px(x):
    return (x - ML) / PW


def py(y):
    return (MT + PH - y) / PH


fig = go.Figure()

# perturbations
for k in range(20):
    col = PERT_COLORS[k]
    fig.add_trace(go.Scatter(x=TIMES, y=P850[k], mode="lines", line=dict(color=col, width=1),
                             name="P" + PERT_NAMES[k], yaxis="y"))
    fig.add_trace(go.Scatter(x=TIMES, y=P500[k], mode="lines", line=dict(color=col, width=1),
                             name="P" + PERT_NAMES[k], yaxis="y"))
    fig.add_trace(go.Scatter(x=TIMES, y=PPR[k], mode="lines", line=dict(color=col, width=1),
                             name="P" + PERT_NAMES[k], yaxis="y2"))

for series, col, wd, ax in [
    (GFS_850, C_GFS, 2.5, "y"), (GFS_500, C_GFS, 2.5, "y"), (GFS_PR, C_GFS, 2.5, "y2"),
    (CTRL_850, C_CTRL, 2.5, "y"), (CTRL_500, C_CTRL, 2.5, "y"), (CTRL_PR, C_CTRL, 2.5, "y2"),
    (MEAN_850, C_MEAN, 3, "y"), (MEAN_500, C_MEAN, 3, "y"), (MEAN_PR, C_MEAN, 3, "y2"),
]:
    fig.add_trace(go.Scatter(x=TIMES, y=series, mode="lines", line=dict(color=col, width=wd), yaxis=ax))

YR = [-52.2, 33.4]

fig.update_layout(
    width=W, height=H, margin=dict(l=ML, r=MR, t=MT, b=MB, pad=0),
    paper_bgcolor="white", plot_bgcolor="white", showlegend=False,
    font=dict(family=FONT, size=7, color=TXT),
    xaxis=dict(type="date", range=[TIMES[0], TIMES[-1]], tickvals=TICK_DATES, ticktext=DATE_LABELS,
               tickangle=-90, tickfont=dict(size=6.5, family=FONT, color=TXT), showgrid=True,
               gridcolor="#cccccc", gridwidth=1, zeroline=False, showline=False, ticks="",
               ticklabelshift=3, ticklabelstandoff=2),
    yaxis=dict(range=YR, tickvals=LEFT_TICKS, showgrid=True, gridcolor="#c4c4c4", griddash="dot",
               gridwidth=1, zeroline=False, showline=True, linecolor="#888888", linewidth=1,
               ticks="", tickfont=dict(size=7, family=FONT, color=TXT), ticklabelstandoff=5),
    yaxis2=dict(range=[YR[0] + 45, YR[1] + 45], tickvals=RIGHT_TICKS, overlaying="y", side="right",
                showgrid=False, zeroline=False, showline=True, linecolor="#888888", linewidth=1,
                ticks="", tickfont=dict(size=7, family=FONT, color=TXT), ticklabelstandoff=3),
)

ann = []
shapes = []


def text(x, y, s, size=6.5, bold=False, anchor="left"):
    ann.append(dict(xref="paper", yref="paper", x=px(x), y=py(y), text=("<b>%s</b>" % s) if bold else s,
                    showarrow=False, xanchor=anchor, yanchor="middle",
                    font=dict(family=FONT, size=size, color=TXT)))


text(32, 49, "Temp. 850hPa")
text(32, 139, "Temp. 500hPa")
text(32, 289, "Précipitations")
text(11, 328, "(°C)")
text(382, 328, "(mm)")

# legend
shapes.append(dict(type="line", xref="paper", yref="paper", x0=px(18), x1=px(34), y0=py(352), y1=py(352),
                   line=dict(color=C_MEAN, width=3)))
text(39, 352, "Moyenne des scénarios")
shapes.append(dict(type="line", xref="paper", yref="paper", x0=px(122), x1=px(139), y0=py(344), y1=py(344),
                   line=dict(color=C_CTRL, width=3)))
shapes.append(dict(type="line", xref="paper", yref="paper", x0=px(122), x1=px(139), y0=py(348.5), y1=py(348.5),
                   line=dict(color=C_GFS, width=3)))
text(142, 344, "Run de contrôle")
text(142, 350, "Run GFS")
text(199, 352, "20 Perturbations")
bw = 6.15
for k in range(20):
    x0 = 250 + k * bw
    shapes.append(dict(type="rect", xref="paper", yref="paper", x0=px(x0), x1=px(x0 + bw - 0.6),
                       y0=py(355), y1=py(350.5), line=dict(width=0), fillcolor=PERT_COLORS[k]))
    ann.append(dict(xref="paper", yref="paper", x=px(x0 + bw / 2), y=py(347), text=PERT_NAMES[k],
                    showarrow=False, xanchor="center", yanchor="middle",
                    font=dict(family=FONT, size=4, color=TXT)))

# title box
shapes.append(dict(type="rect", xref="paper", yref="paper", x0=px(11.5), x1=px(242.5), y0=py(392), y1=py(361.5),
                   line=dict(color="#000000", width=1), fillcolor="rgba(0,0,0,0)"))
text(15, 366.5, "Diagramme des ensembles GEFS sur 384h : 42,9N 13,1E", size=7.2, bold=True)
text(15, 375, "Températures 850hPa et 500hPa (°C) , précipitations (mm)", size=6.5)
text(244, 363, "Ensemble GEFS du 17/08/2010 - 06h", size=6.5)
text(244, 374.5, "Copyright 2010 Meteociel.fr", size=7.2, bold=True)

fig.update_layout(annotations=ann, shapes=shapes)
fig.write_html("out.html", config={"displayModeBar": False},
               post_script="document.body.style.margin='0px';document.body.style.overflow='hidden';")
